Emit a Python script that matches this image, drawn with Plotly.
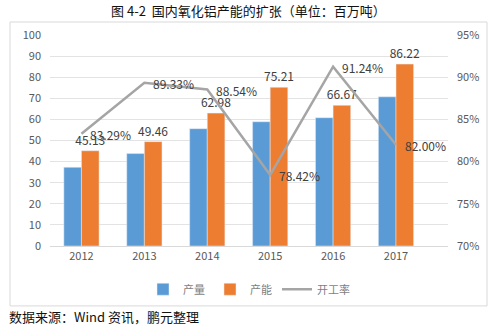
import plotly.graph_objects as go

years = ["2012", "2013", "2014", "2015", "2016", "2017"]
output = [37.3, 43.8, 55.6, 58.9, 60.8, 70.7]
capacity = [45.13, 49.46, 62.98, 75.21, 66.67, 86.22]
utilization = [83.29, 89.33, 88.54, 78.42, 91.24, 82.00]
left_ticks = [0, 10, 20, 30, 40, 50, 60, 70, 80, 90, 100]
right_ticks = [70, 75, 80, 85, 90, 95]

FONT = "Noto Sans CJK SC, Noto Sans, sans-serif"

fig = go.Figure()
fig.add_trace(go.Bar(
    x=years, y=output, name="产量", marker_color="#5B9BD5",
))
fig.add_trace(go.Bar(
    x=years, y=capacity, name="产能", marker_color="#ED7D31",
    text=[f"{v:.2f}" for v in capacity], textposition="outside",
    constraintext="none",
    textfont=dict(size=12, color="#404040"), cliponaxis=False,
))
fig.add_trace(go.Scatter(
    x=years, y=[u / 100 for u in utilization], name="开工率", yaxis="y2",
    mode="lines", line=dict(color="#A5A5A5", width=2.5), cliponaxis=False,
))

line_labels = [
    dict(x=i, y=u / 100, xref="x", yref="y2", text=f"{u:.2f}%", showarrow=False,
         xanchor="left", yanchor="middle", xshift=7, yshift=-1,
         font=dict(size=12, color="#404040", family=FONT))
    for i, u in enumerate(utilization)
]

fig.update_layout(
    width=500, height=327,
    margin=dict(l=50, r=52, t=35, b=81),
    paper_bgcolor="white", plot_bgcolor="white",
    font=dict(family=FONT, size=11, color="#595959"),
    barmode="group", bargap=0.44, bargroupgap=0,
    showlegend=True,
    legend=dict(orientation="h", x=0.5, xanchor="center", y=-0.205, yanchor="middle",
                font=dict(size=11, color="#7F7F7F"), itemwidth=30,
                traceorder="normal"),
    xaxis=dict(type="category", showgrid=False, showline=True, linecolor="#D9D9D9", ticks="",
               tickfont=dict(size=11, color="#595959")),
    yaxis=dict(range=[0, 100], tickvals=left_ticks, showgrid=True, gridcolor="#E3E3E3",
               zeroline=False, ticks="", tickfont=dict(size=11, color="#595959"),
               ticklabelstandoff=8),
    yaxis2=dict(range=[0.70, 0.95], tickvals=[t / 100 for t in right_ticks],
                ticktext=[f"{t}%" for t in right_ticks], overlaying="y", side="right",
                showgrid=False, zeroline=False, ticks="",
                tickfont=dict(size=11, color="#595959"), ticklabelstandoff=8),
    shapes=[dict(type="rect", xref="paper", yref="paper",
                 x0=-0.1005, x1=1.098, y0=-0.284, y1=1.0616,
                 line=dict(color="#D9D9D9", width=1), layer="below")],
    annotations=line_labels + [
        dict(text="图 4-2  国内氧化铝产能的扩张（单位：百万吨）", xref="paper", yref="paper",
             x=(248 - 50) / 398, y=(246 - 11) / 211, xanchor="center", yanchor="middle",
             showarrow=False, font=dict(size=13, color="#111111", family=FONT)),
        dict(text="数据来源：Wind 资讯，鹏元整理", xref="paper", yref="paper",
             x=(7 - 50) / 398, y=(246 - 316) / 211, xanchor="left", yanchor="middle",
             showarrow=False, font=dict(size=13, color="#111111", family=FONT)),
    ],
)

fig.write_html("out.html")
